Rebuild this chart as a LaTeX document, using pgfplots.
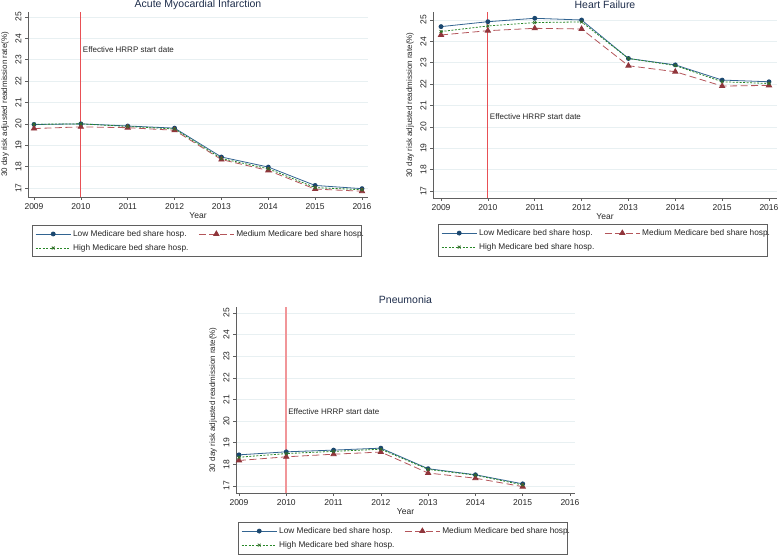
\documentclass[border=0pt]{standalone}
\usepackage{pgfplots}
\pgfplotsset{compat=1.18}
\usepackage{fontspec}
\setmainfont{Liberation Sans}
\definecolor{lowline}{RGB}{50,100,145}
\definecolor{lowmark}{RGB}{26,71,111}
\definecolor{medline}{RGB}{180,85,90}
\definecolor{medmark}{RGB}{144,53,59}
\definecolor{highline}{RGB}{40,135,40}
\definecolor{highmark}{RGB}{50,110,40}
\definecolor{gridc}{RGB}{232,240,242}
\definecolor{axc}{RGB}{95,95,95}
\definecolor{hrrpred}{RGB}{232,80,85}
\definecolor{titlec}{RGB}{30,45,75}
\pgfplotsset{
  stata/.style={
    scale only axis,
    axis x line*=bottom, axis y line*=left,
    axis line style={axc, line width=0.6pt},
    xtick={2009,...,2016}, ytick={17,...,25},
    /pgf/number format/set thousands separator={},
    /pgf/number format/assume math mode=true,
    tick style={axc, line width=0.5pt},
    tick align=outside, major tick length=3pt,
    ymajorgrids, grid style={gridc, line width=0.6pt},
    tick label style={font=\fontsize{8.5}{9}\selectfont, text=black!85},
    yticklabel style={rotate=90, anchor=south},
    every axis y label/.style={at={(axis description cs:0,0.5)}, rotate=90, anchor=center, yshift=23pt, font=\fontsize{8}{9}\selectfont, text=black!85},
    every axis x label/.style={at={(axis description cs:0.5,0)}, anchor=center, yshift=-19pt, font=\fontsize{8.5}{9}\selectfont, text=black!85},
    ylabel={30 day risk adjusted readmission rate(\%)},
    xlabel={Year},
    every axis title shift=0pt,
    title style={at={(axis description cs:0.5,1)}, anchor=center, yshift=7pt, font=\fontsize{10.5}{12}\selectfont, text=titlec},
    legend columns=2,
    legend cell align=left,
    legend style={draw=axc, line width=0.6pt, font=\fontsize{8.3}{9}\selectfont, anchor=north west, text=black!85,
      /tikz/every even column/.append style={column sep=8pt}, row sep=2.5pt, inner xsep=3pt, inner ysep=3pt},
    legend image code/.code={\draw[mark repeat=2,mark phase=2,##1] plot coordinates {(0pt,0pt)(17.5pt,0pt)(35pt,0pt)};},
    clip=false,
    extra x ticks={2010},
    extra x tick labels={},
    extra x tick style={grid=major, major grid style={draw=hrrpred, line width=1pt}, major tick length=0pt},
  },
  lowp/.style={color=lowline, line width=0.8pt, mark=*, mark size=2pt, mark options={solid, fill=lowmark, draw=lowmark}},
  medp/.style={color=medline, line width=0.8pt, dash pattern=on 7pt off 3.5pt, mark=triangle*, mark size=3pt, mark options={solid, fill=medmark, draw=medmark}},
  highp/.style={color=highline, line width=0.8pt, dash pattern=on 2pt off 1.5pt, mark=x, mark size=2pt, mark options={solid, draw=highmark, line width=0.8pt}},
}
\begin{document}
\begin{tikzpicture}[x=1pt,y=1pt]
\path[use as bounding box] (0,0) rectangle (778,554);

% Acute Myocardial Infarction
\begin{axis}[stata, at={(28pt,357pt)}, anchor=south west, width=340pt, height=185pt,
  xmin=2008.872, xmax=2016.128, ymin=16.58, ymax=25.23,
  title={Acute Myocardial Infarction},
  legend style={at={(axis description cs:0.0118,-0.151)}}]
\addplot[lowp] coordinates {(2009,19.97)(2010,20.0)(2011,19.9)(2012,19.8)(2013,18.45)(2014,17.98)(2015,17.12)(2016,16.97)};
\addlegendentry{\makebox[113pt][l]{Low Medicare bed share hosp.}}
\addplot[medp] coordinates {(2009,19.78)(2010,19.86)(2011,19.82)(2012,19.7)(2013,18.33)(2014,17.82)(2015,16.95)(2016,16.85)};
\addlegendentry{\makebox[120pt][l]{Medium Medicare bed share hosp.}}
\addplot[highp] coordinates {(2009,19.98)(2010,20.0)(2011,19.88)(2012,19.76)(2013,18.38)(2014,17.9)(2015,17.02)(2016,16.92)};
\addlegendentry{High Medicare bed share hosp.}
\node[anchor=west, font=\fontsize{8}{9}\selectfont, text=black!85, inner sep=0pt] at (axis cs:2010.04,23.46) {Effective HRRP start date};
\end{axis}

% Heart Failure
\begin{axis}[stata, at={(433pt,356pt)}, anchor=south west, width=344pt, height=186pt,
  xmin=2008.829, xmax=2016.171, ymin=16.673, ymax=25.374,
  title={Heart Failure},
  legend style={at={(axis description cs:0.0145,-0.14)}}]
\addplot[lowp] coordinates {(2009,24.69)(2010,24.92)(2011,25.08)(2012,25.0)(2013,23.2)(2014,22.9)(2015,22.19)(2016,22.11)};
\addlegendentry{\makebox[113pt][l]{Low Medicare bed share hosp.}}
\addplot[medp] coordinates {(2009,24.3)(2010,24.5)(2011,24.61)(2012,24.58)(2013,22.86)(2014,22.58)(2015,21.91)(2016,21.94)};
\addlegendentry{\makebox[120pt][l]{Medium Medicare bed share hosp.}}
\addplot[highp] coordinates {(2009,24.46)(2010,24.72)(2011,24.88)(2012,24.91)(2013,23.2)(2014,22.87)(2015,22.11)(2016,22.03)};
\addlegendentry{High Medicare bed share hosp.}
\node[anchor=west, font=\fontsize{8}{9}\selectfont, text=black!85, inner sep=0pt] at (axis cs:2010.04,20.46) {Effective HRRP start date};
\end{axis}

% Pneumonia
\begin{axis}[stata, at={(236pt,61pt)}, anchor=south west, width=339pt, height=186pt,
  xmin=2008.937, xmax=2016.106, ymin=16.676, ymax=25.277,
  title={Pneumonia},
  extra x tick style={grid=major, major grid style={draw=hrrpred!60!white, line width=1.6pt}, major tick length=0pt},
  legend style={at={(axis description cs:0.006,-0.156)}}]
\addplot[lowp] coordinates {(2009,18.44)(2010,18.58)(2011,18.66)(2012,18.75)(2013,17.8)(2014,17.52)(2015,17.1)};
\addlegendentry{\makebox[113pt][l]{Low Medicare bed share hosp.}}
\addplot[medp] coordinates {(2009,18.18)(2010,18.35)(2011,18.47)(2012,18.57)(2013,17.6)(2014,17.36)(2015,16.97)};
\addlegendentry{\makebox[120pt][l]{Medium Medicare bed share hosp.}}
\addplot[highp] coordinates {(2009,18.33)(2010,18.5)(2011,18.6)(2012,18.7)(2013,17.77)(2014,17.5)(2015,17.05)};
\addlegendentry{High Medicare bed share hosp.}
\node[anchor=west, font=\fontsize{8}{9}\selectfont, text=black!85, inner sep=0pt] at (axis cs:2010.04,20.46) {Effective HRRP start date};
\end{axis}
\end{tikzpicture}
\end{document}
